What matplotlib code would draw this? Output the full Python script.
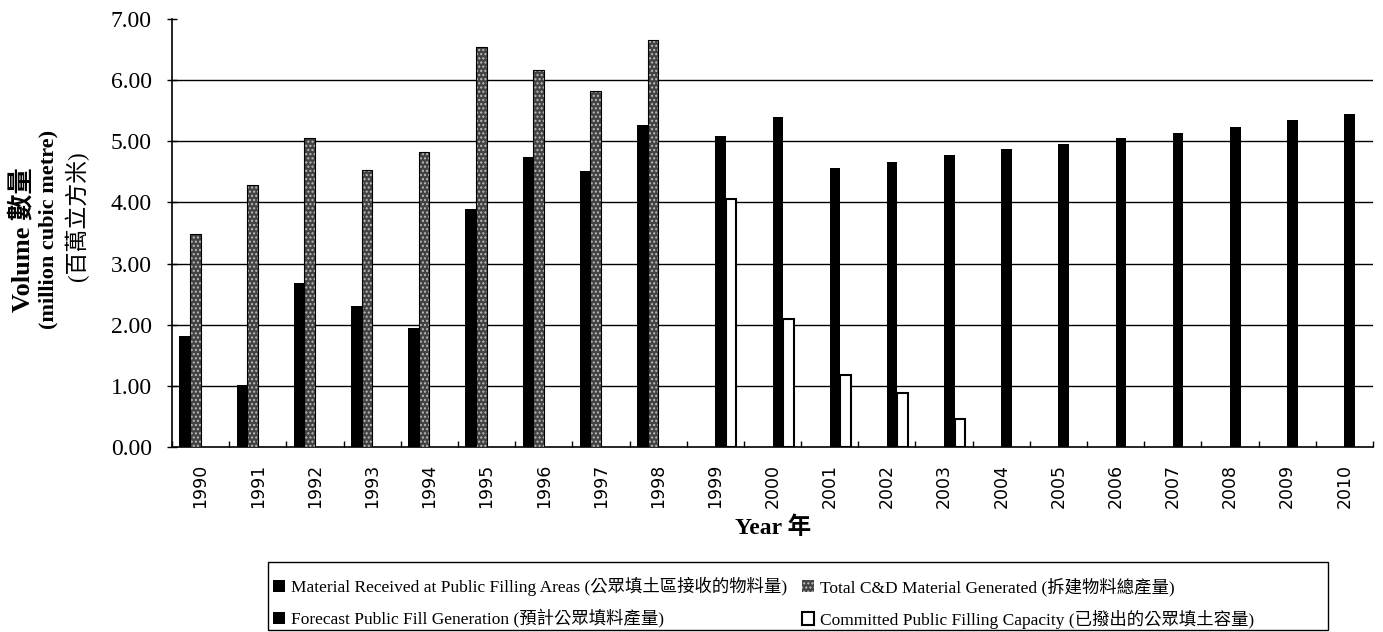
import matplotlib
matplotlib.use("Agg")
import matplotlib.pyplot as plt
from matplotlib.patches import Rectangle
import numpy as np

plt.rcParams['font.family'] = ['Liberation Serif', 'Noto Sans CJK TC']

years = [str(y) for y in range(1990, 2011)]

# values in million cubic metre
received_years = years[:9]
received = [1.82, 1.02, 2.68, 2.31, 1.95, 3.89, 4.75, 4.51, 5.27]
total_cd = [3.48, 4.28, 5.06, 4.53, 4.82, 6.55, 6.17, 5.83, 6.65]

forecast_years = years[9:]
forecast = [5.08, 5.39, 4.56, 4.66, 4.77, 4.87, 4.96, 5.05, 5.14, 5.24, 5.34, 5.44]

committed_years = years[9:14]
committed = [4.05, 2.09, 1.18, 0.89, 0.45]

labels = ["Material Received at Public Filling Areas (公眾填土區接收的物料量)",
          "Total C&D Material Generated (拆建物料總產量)",
          "Forecast Public Fill Generation (預計公眾填料產量)",
          "Committed Public Filling Capacity (已撥出的公眾填土容量)"]

W, H = 1383, 632
fig = plt.figure(figsize=(W/100, H/100), dpi=100)
ax = fig.add_axes([172/W, 1 - 447/H, (1373-172)/W, (447-19)/H])

pos = {y: i for i, y in enumerate(years)}
w = 0.185

x1 = np.array([pos[y] for y in received_years])
x3 = np.array([pos[y] for y in forecast_years])
x4 = np.array([pos[y] for y in committed_years])

b1 = ax.bar(x1 - 1.5*w, received, w, color='black', zorder=3)
b2 = ax.bar(x1 - 0.5*w, total_cd, w, color='#424242', edgecolor='#bdbdbd',
            hatch='....', linewidth=0, zorder=3)
ax.bar(x1 - 0.5*w, total_cd, w, fill=False, edgecolor='black', linewidth=0.8, zorder=4)
b3 = ax.bar(x3 + 0.5*w, forecast, w, color='black', zorder=3)
b4 = ax.bar(x4 + 1.5*w, committed, w, color='white', edgecolor='black',
            linewidth=1.5, zorder=3)

for v in range(1, 7):
    ax.axhline(v, color='black', linewidth=1.0, zorder=1)

ax.set_xlim(-0.5, len(years) - 0.5)
ax.set_ylim(0, 7)
ax.set_yticks(range(0, 8))
ax.set_yticklabels(["%.2f" % v for v in range(0, 8)], fontsize=17)
ax.tick_params(axis='y', direction='inout', length=7, width=1, pad=11)

ax.set_xticks(range(len(years)))
ax.set_xticklabels(years, rotation=90, fontsize=12.5, family='DejaVu Sans')
ax.tick_params(axis='x', which='major', length=0, pad=12)
ax.set_xticks(np.arange(-0.5, len(years)), minor=True)
ax.tick_params(axis='x', which='minor', direction='in', length=4, width=1)

for s in ['top', 'right']:
    ax.spines[s].set_visible(False)
for s in ['left', 'bottom']:
    ax.spines[s].set_linewidth(1.2)

fig.text(773/W, 1 - 528/H, "Year 年", ha='center', va='center',
         fontsize=17, fontweight='bold')
fig.text(22/W, 1 - 240/H, "Volume 數量", rotation=90, ha='center', va='center',
         fontsize=19, fontweight='bold')
fig.text(48/W, 1 - 229/H, "(million cubic metre)", rotation=90, ha='center',
         va='center', fontsize=16, fontweight='bold')
fig.text(77/W, 1 - 216/H, "(百萬立方米)", rotation=90, ha='center',
         va='center', fontsize=16.5)

# legend box drawn separately so the spare room sits at its right end
fig.patches.append(Rectangle((268/W, 2/H), (1328-268)/W, (630-562)/H,
                             transform=fig.transFigure, fill=False,
                             edgecolor='black', linewidth=1.0))
leg = fig.legend([b1, b3, b2, b4], [labels[0], labels[2], labels[1], labels[3]],
                 ncol=2, loc='upper left',
                 bbox_to_anchor=(268/W, 1 - 572/H),
                 fontsize=12.5, frameon=False,
                 handlelength=0.7, handleheight=0.7, handletextpad=0.3,
                 labelspacing=0.75, columnspacing=0.9, borderpad=0.3,
                 borderaxespad=0)

fig.savefig("out.png", dpi=100)
